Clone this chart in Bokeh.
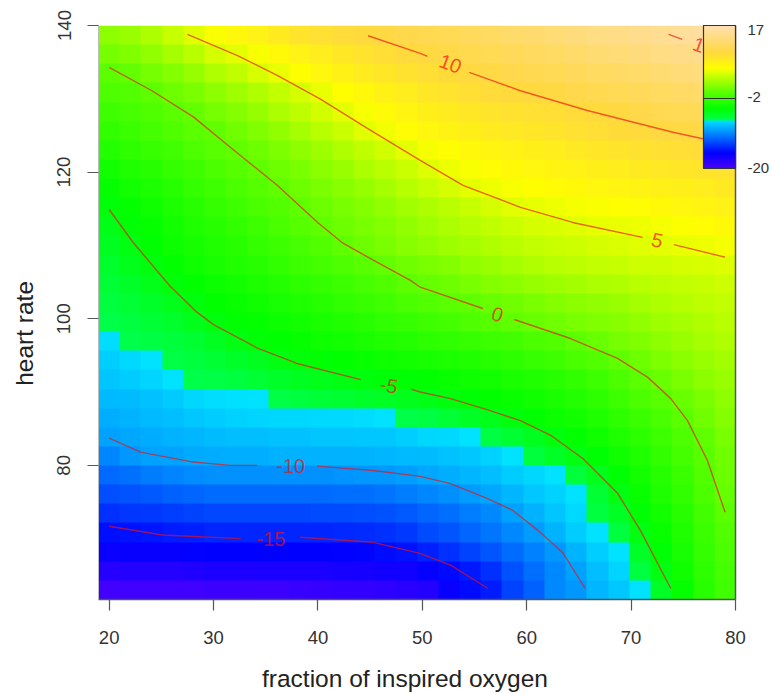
from bokeh.plotting import figure
from bokeh.models import LinearColorMapper, ColorBar, FixedTicker, Range1d, LinearAxis
from bokeh.core.properties import value
from bokeh.embed import file_html
from bokeh.resources import INLINE
import numpy as np

x_label = "fraction of inspired oxygen"
y_label = "heart rate"
x_label_at = 48.34
y_label_at = 98.0
x_ticks = [20, 30, 40, 50, 60, 70, 80]
y_ticks = [80, 100, 120, 140]
legend_ticks = [-20, -2, 17]

x_edges = (18.98, 80.0)
y_edges = (61.7, 140.0)

# estimated surface, rows from bottom (heart rate ~63) to top (~139), 30 columns
z_rows = [
 [-19.5,-19.4,-19.4,-19.3,-19.3,-19.2,-19.2,-19.1,-19.1,-19.0,-18.8,-18.7,-18.6,-18.4,-18.2,-17.8,-16.4,-15.6,-15.0,-13.5,-12.4,-10.9,-10.4,-9.2,-8.6,-7.6,-6,-4.2,-2.6,-1.5],
 [-18,-17.9,-17.9,-17.8,-17.6,-17.5,-17.5,-17.4,-17.4,-17.3,-17.3,-17.2,-17.1,-17,-16.8,-16.2,-15.7,-15.1,-14.2,-13,-11.9,-10.9,-10,-8.9,-8.1,-7,-5.2,-3.8,-2.4,-1.3],
 [-16.5,-16.4,-16.4,-16.3,-16.1,-16,-16,-16,-16,-16,-16,-15.9,-15.8,-15.6,-15.3,-14.8,-14.2,-13.5,-12.8,-12,-11.2,-10.4,-9.3,-8.3,-7.6,-6,-4.7,-3.4,-2.1,-1],
 [-15.4,-15.3,-15.2,-15,-14.8,-14.6,-14.6,-14.6,-14.6,-14.6,-14.6,-14.5,-14.4,-14.2,-13.9,-13.2,-12.8,-12.2,-11.6,-10.9,-10.2,-9.3,-8.4,-7.6,-6.9,-5.2,-4.1,-3,-1.8,-0.7],
 [-14.2,-14,-13.9,-13.7,-13.5,-13.3,-13.3,-13.3,-13.3,-13.3,-13.2,-13.2,-13.1,-13,-12.7,-12.2,-11.9,-11.4,-10.9,-10,-9.4,-8.7,-7.9,-7,-5.9,-4.7,-3.6,-2.6,-1.4,-0.2],
 [-13.1,-12.9,-12.7,-12.4,-12.2,-12,-12,-12,-12,-12,-12,-11.9,-11.9,-11.7,-11.4,-11,-10.7,-10.2,-9.8,-9.2,-8.6,-8.2,-7.6,-6.5,-5.2,-4.1,-3.1,-2.2,-1,0.2],
 [-12.1,-11.8,-11.4,-11.1,-10.8,-10.6,-10.6,-10.6,-10.6,-10.6,-10.6,-10.5,-10.4,-10.3,-10.1,-9.8,-9.5,-9.2,-8.9,-8.4,-8,-7.6,-6.8,-5.6,-4.6,-3.6,-2.7,-1.8,-0.7,0.4],
 [-11,-10.4,-10,-9.9,-9.7,-9.6,-9.5,-9.5,-9.4,-9.4,-9.4,-9.4,-9.3,-9.2,-9.1,-9,-8.8,-8.6,-8.2,-7.6,-6.9,-6,-5.2,-4.6,-3.8,-3.1,-2.2,-1.3,-0.4,0.6],
 [-10,-9.8,-9.6,-9.4,-9.2,-9,-8.9,-8.9,-8.8,-8.8,-8.7,-8.7,-8.6,-8.6,-8.3,-8,-7.9,-7.6,-7.1,-6.4,-5.7,-5,-4.4,-3.8,-3.1,-2.5,-1.7,-0.9,0,0.9],
 [-9.5,-9.3,-9.1,-8.9,-8.6,-8.4,-8.2,-8.1,-8,-8,-7.9,-7.9,-7.8,-7.6,-7.3,-7.1,-6.6,-6,-5.5,-5,-4.5,-4,-3.6,-3.1,-2.4,-1.8,-1.1,-0.3,0.6,1.4],
 [-9.1,-9,-8.8,-8.5,-8,-7.8,-7.7,-7.6,-7.2,-6.9,-6.6,-6.4,-6.1,-5.9,-5.6,-5.4,-5,-4.7,-4.4,-4.1,-3.8,-3.3,-2.9,-2.4,-1.7,-1,-0.4,0.3,1,1.7],
 [-8.7,-8.4,-8.1,-7.6,-7.3,-7.2,-7,-6.5,-6.1,-5.8,-5.5,-5.2,-5,-4.8,-4.6,-4.4,-4.1,-3.9,-3.6,-3.3,-3,-2.6,-2.2,-1.7,-1,-0.3,0.3,1,1.6,2.1],
 [-8.3,-7.9,-7.6,-7.2,-6.9,-6.5,-6.1,-5.7,-5.2,-4.9,-4.6,-4.4,-4.1,-3.9,-3.6,-3.4,-3.2,-3,-2.7,-2.4,-2,-1.6,-1.1,-0.6,0,0.5,1.1,1.6,2.1,2.5],
 [-7.8,-7.4,-7.1,-6.8,-6.4,-5.8,-5.2,-4.8,-4.5,-4.2,-3.9,-3.6,-3.3,-3,-2.8,-2.5,-2.3,-2,-1.7,-1.4,-1,-0.6,-0.1,0.3,0.8,1.2,1.7,2.2,2.6,3],
 [-7.3,-7,-6.6,-6.2,-5.6,-5,-4.6,-4.3,-4,-3.6,-3.3,-3,-2.6,-2.3,-2,-1.6,-1.3,-0.9,-0.5,0,0.3,0.6,0.9,1.2,1.5,1.9,2.3,2.6,3,3.4],
 [-6.9,-6.5,-6.1,-5.5,-5,-4.4,-4.1,-3.8,-3.4,-3.1,-2.7,-2.3,-1.9,-1.5,-1.1,-0.6,-0.3,0,0.3,0.6,1,1.3,1.6,1.9,2.2,2.6,2.9,3.2,3.5,3.7],
 [-6.6,-6.1,-5.5,-4.9,-4.4,-4,-3.6,-3.2,-2.8,-2.5,-2.1,-1.7,-1.2,-0.8,-0.2,0.2,0.5,0.9,1.3,1.6,2,2.3,2.5,2.8,3,3.3,3.5,3.7,3.9,4.1],
 [-6.2,-5.6,-5,-4.4,-3.9,-3.4,-3,-2.6,-2.2,-1.7,-1.3,-0.9,-0.4,0.1,0.6,1,1.4,1.8,2.2,2.6,3,3.3,3.5,3.7,3.9,4.1,4.2,4.4,4.5,4.7],
 [-5.8,-5.2,-4.6,-4,-3.5,-3,-2.6,-2.1,-1.7,-1.2,-0.6,0,0.5,1,1.5,1.9,2.3,2.6,3,3.4,3.7,4,4.2,4.4,4.6,4.8,5,5.2,5.4,5.6],
 [-5.4,-4.8,-4.2,-3.7,-3.1,-2.6,-2.2,-1.7,-1.1,-0.5,0,0.5,0.9,1.4,1.9,2.4,2.8,3.2,3.6,4,4.4,4.6,4.8,5.1,5.2,5.4,5.6,5.9,6.2,6.5],
 [-4.9,-4.3,-3.8,-3.2,-2.6,-2.1,-1.6,-1.1,-0.6,0,0.4,0.9,1.4,1.9,2.4,2.9,3.4,3.9,4.4,4.9,5.1,5.4,5.6,5.8,6,6.2,6.5,6.8,7,7.3],
 [-4.2,-3.7,-3.2,-2.7,-2.1,-1.6,-1.1,-0.5,0,0.5,1,1.5,2,2.6,3.2,3.8,4.4,5,5.4,5.7,6,6.3,6.5,6.8,7,7.2,7.4,7.6,7.9,8.1],
 [-3.6,-3.1,-2.6,-2.1,-1.6,-1,-0.5,0,0.5,1,1.6,2.2,2.8,3.4,4,4.7,5.3,5.8,6.2,6.5,6.8,7.1,7.3,7.6,7.9,8.1,8.3,8.5,8.7,8.9],
 [-2.9,-2.4,-1.9,-1.5,-0.9,-0.4,0,0.5,1.1,1.7,2.3,3,3.6,4.3,5,5.6,6.1,6.6,7,7.3,7.6,7.9,8.2,8.5,8.8,9,9.2,9.4,9.6,9.8],
 [-2.2,-1.8,-1.3,-0.8,-0.3,0,0.6,1.2,1.9,2.6,3.3,4,4.8,5.5,6.2,6.8,7.2,7.6,8,8.3,8.5,8.8,9.1,9.4,9.7,9.9,10.1,10.3,10.5,10.7],
 [-1.6,-1.2,-0.8,-0.3,0.1,0.8,1.4,2,2.8,3.5,4.3,5,5.7,6.4,7,7.6,8,8.4,8.8,9,9.2,9.4,9.6,9.9,10.2,10.6,11,11.3,11.5,11.7],
 [-0.9,-0.6,-0.1,0.5,1,1.7,2.3,3,3.7,4.4,5.2,6,6.7,7.4,7.9,8.5,8.9,9.3,9.6,9.8,10,10.3,10.7,11,11.3,11.6,12,12.3,12.6,12.8],
 [-0.2,0.1,0.8,1.4,2,3,3.6,4.5,5.2,6,6.8,7.4,8,8.5,9,9.4,9.7,10,10.4,10.7,11,11.3,11.6,12,12.3,12.6,13,13.4,13.8,14.2],
 [0.8,1.2,1.9,2.6,3.3,4.4,5,5.7,6.5,7.3,7.9,8.4,8.9,9.4,9.8,10.2,10.5,10.9,11.2,11.6,11.9,12.2,12.6,13,13.3,13.6,14,14.4,14.8,15.2],
 [1.7,2.2,2.9,3.8,4.8,5.8,6.6,7.3,8,8.7,9.2,9.6,9.9,10.3,10.7,11,11.3,11.7,12.1,12.5,12.8,13.2,13.6,14,14.3,14.6,15,15.4,15.8,16.2],
]

# contour lines, one list per unbroken piece
line_m15_a_x = [20, 25.1, 32.6]
line_m15_a_y = [71.7, 70.5, 70.0]
line_m15_b_x = [38.3, 45.3, 49.8, 52.7, 56.3]
line_m15_b_y = [70.2, 69.5, 68.0, 66.4, 63.2]
line_m10_a_x = [20, 23, 27.8, 31.6, 34.2]
line_m10_a_y = [83.7, 81.8, 80.5, 80.0, 80.0]
line_m10_b_x = [39.9, 45.3, 49.8, 52.7, 56.2, 58.6, 61.1, 63.5, 65.6]
line_m10_b_y = [79.9, 79.3, 78.5, 77.5, 75.5, 73.9, 71.1, 68.0, 63.2]
line_m5_a_x = [20, 22.3, 25.8, 28.4, 30, 34.2, 38, 44.1]
line_m5_a_y = [114.9, 110.4, 104.5, 100.9, 99.2, 96.0, 93.9, 91.7]
line_m5_b_x = [48.9, 49.8, 52.7, 56.2, 59.4, 62.3, 65.4, 68.7, 70.9, 73.8]
line_m5_b_y = [90.4, 90.0, 89.1, 87.6, 86.1, 84.1, 80.9, 76.2, 71.1, 63.2]
line_0_a_x = [20, 24.1, 28.1, 31.6, 36.1, 40, 42.4, 45.3, 48.9, 49.8, 55.8]
line_0_a_y = [134.3, 131.1, 127.5, 123.4, 118.2, 113.1, 110.3, 108.0, 105.2, 104.3, 101.4]
line_0_b_x = [58.8, 64.2, 68.7, 71.6, 73.8, 75.4, 77.3, 79]
line_0_b_y = [99.9, 97.3, 94.6, 92.0, 89.1, 86.1, 80.7, 73.6]
line_5_a_x = [27.5, 32.3, 36.1, 40.2, 44.7, 49.8, 53.9, 59.4, 64.5, 71.1]
line_5_a_y = [138.8, 135.9, 133.2, 130.0, 126.0, 121.6, 118.2, 115.2, 113.1, 111.1]
line_5_b_x = [74.1, 79]
line_5_b_y = [110.1, 108.4]
line_10_a_x = [44.8, 49.8, 50.5]
line_10_a_y = [138.6, 136.2, 135.8]
line_10_b_x = [54.5, 59.4, 65.8, 74.1, 79]
line_10_b_y = [133.6, 131.1, 128.4, 125.4, 123.9]
line_15_a_x = [73.6, 74.9]
line_15_a_y = [138.8, 138.1]

label_text = ["-15", "-10", "-5", "0", "5", "10", "15"]
label_x = [35.5, 37.4, 46.8, 57.2, 72.5, 52.7, 77.0]
label_y = [70.0, 79.9, 90.9, 100.6, 110.7, 134.8, 137.1]
label_angle = [0, 0, -12, -18, -13, -20, -20]

legend_label_y = [120.5, 130.3, 139.45]

# colour scale (topographic, with the jump from cyan to green)
stops_z = [-20, -16, -7.5, -7.49, -4.5, 0, 6, 10, 17]
stops_rgb = [(0x4C,0,0xFF), (0,0,0xFF), (0,0xE5,0xFF), (0,0xFF,0x4D), (0,0xFF,0),
             (0x60,0xFF,0), (0xFF,0xFF,0), (0xFF,0xD9,0x3F), (0xFF,0xE0,0xB3)]
levels = np.linspace(-20, 17, 740)
palette = []
for lv in levels:
    r = np.interp(lv, stops_z, [c[0] for c in stops_rgb])
    g = np.interp(lv, stops_z, [c[1] for c in stops_rgb])
    b = np.interp(lv, stops_z, [c[2] for c in stops_rgb])
    palette.append("#%02x%02x%02x" % (int(r), int(g), int(b)))
mapper = LinearColorMapper(palette=palette, low=-20, high=17)

p = figure(width=772, height=694, output_backend="svg", toolbar_location=None,
           x_range=Range1d(*x_edges), y_range=Range1d(*y_edges),
           min_border_left=98, min_border_right=37, min_border_top=25, min_border_bottom=95)
p.grid.visible = False
p.outline_line_color = None

p.image(image=[np.array(z_rows, dtype=float)], x=x_edges[0], y=y_edges[0],
        dw=x_edges[1]-x_edges[0], dh=y_edges[1]-y_edges[0], color_mapper=mapper)

xs = [line_m15_a_x, line_m15_b_x, line_m10_a_x, line_m10_b_x, line_m5_a_x, line_m5_b_x,
      line_0_a_x, line_0_b_x, line_5_a_x, line_5_b_x, line_10_a_x, line_10_b_x, line_15_a_x]
ys = [line_m15_a_y, line_m15_b_y, line_m10_a_y, line_m10_b_y, line_m5_a_y, line_m5_b_y,
      line_0_a_y, line_0_b_y, line_5_a_y, line_5_b_y, line_10_a_y, line_10_b_y, line_15_a_y]
p.multi_line(xs, ys, line_color="#f01010", line_alpha=0.65, line_width=1.4)
p.text(label_x, label_y, text=label_text, angle=label_angle, angle_units="deg",
       text_align="center", text_baseline="middle", text_color="#f01010", text_alpha=0.7,
       text_font=value("Liberation Sans"), text_font_size="20px")

for ax, ticks in ((p.xaxis[0], x_ticks), (p.yaxis[0], y_ticks)):
    ax.ticker = FixedTicker(ticks=ticks)
    ax.minor_tick_line_color = None
    ax.major_tick_out = 11
    ax.major_tick_in = 0
    ax.major_tick_line_color = "#555555"
    ax.major_tick_line_width = 1.2
    ax.major_label_text_font = "Liberation Sans"
    ax.major_label_text_font_size = "18.5px"
    ax.major_label_text_color = "#333333"
p.xaxis[0].axis_line_color = "#555555"
p.xaxis[0].axis_line_width = 1.5
p.xaxis[0].major_label_standoff = 20
p.yaxis[0].axis_line_color = "#bbbbbb"
p.yaxis[0].major_label_orientation = "vertical"
p.yaxis[0].major_label_standoff = 17

# legend labels and the right edge line, through an axis on the right
right = LinearAxis(ticker=FixedTicker(ticks=legend_label_y),
                   major_label_overrides={y: str(t) for y, t in zip(legend_label_y, legend_ticks)},
                   major_tick_in=0, major_tick_out=0, minor_tick_line_color=None,
                   axis_line_color="#555555", axis_line_width=1.5,
                   major_label_standoff=12, major_label_text_font="Liberation Sans",
                   major_label_text_font_size="15px", major_label_text_color="#333333")
p.add_layout(right, "right")

# the axis titles sit off-centre in the reference: outer axes with one labelled tick
x_title = LinearAxis(ticker=FixedTicker(ticks=[x_label_at]),
                     major_label_overrides={x_label_at: x_label},
                     major_tick_in=0, major_tick_out=0, minor_tick_line_color=None,
                     axis_line_color=None, major_label_standoff=18,
                     major_label_text_font="Liberation Sans", major_label_text_font_size="24.5px",
                     major_label_text_color="#222222")
p.add_layout(x_title, "below")
y_title = LinearAxis(ticker=FixedTicker(ticks=[y_label_at]),
                     major_label_overrides={y_label_at: y_label},
                     major_tick_in=0, major_tick_out=0, minor_tick_line_color=None,
                     axis_line_color=None, major_label_standoff=16,
                     major_label_orientation="vertical",
                     major_label_text_font="Liberation Sans", major_label_text_font_size="24.5px",
                     major_label_text_color="#222222")
p.add_layout(y_title, "left")

bar = ColorBar(color_mapper=mapper, ticker=FixedTicker(ticks=legend_ticks),
               major_label_overrides={t: " " for t in legend_ticks},
               location=(605, 431), width=32, height=143, padding=0, margin=0,
               bar_line_color="#333333", bar_line_width=1.2,
               major_tick_in=32, major_tick_out=0, major_tick_line_color="#333333",
               major_tick_line_width=1.2, minor_tick_line_color=None,
               background_fill_alpha=0, border_line_color=None)
p.add_layout(bar, "center")

open("out.html", "w").write(file_html(p, INLINE))
